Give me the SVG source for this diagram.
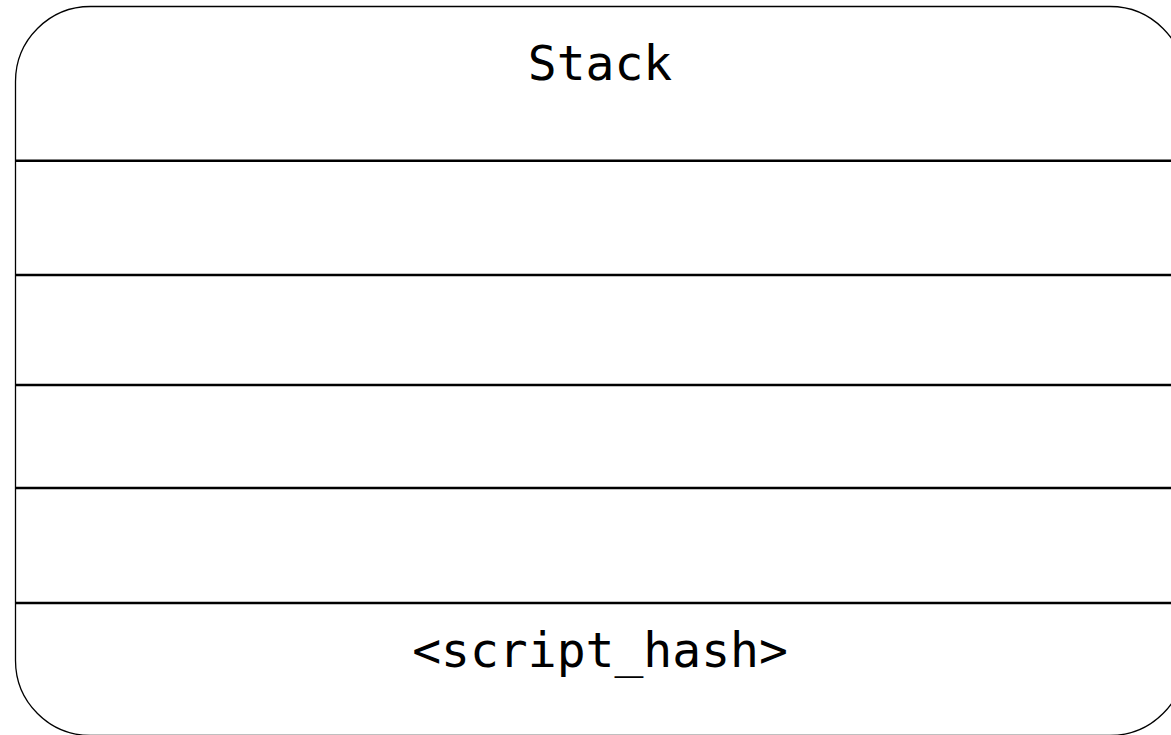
<svg xmlns="http://www.w3.org/2000/svg" width="1171" height="735" viewBox="0 0 1171 735">
  <style>
    .frame { fill: #ffffff; stroke: #000000; stroke-width: 1.3; }
    .row { stroke: #000000; stroke-width: 2.4; }
    .label { font-family: "DejaVu Sans Mono", "Liberation Mono", monospace; font-size: 48px; fill: #000000; text-anchor: middle; }
  </style>
  <rect width="1171" height="735" fill="#ffffff"/>
  <g id="stack">
    <rect class="frame" x="15.5" y="6.5" width="1169.5" height="729" rx="75" ry="75"/>
    <text class="label" x="600" y="79.5">Stack</text>
  </g>
  <g id="slots">
    <line class="row" x1="15.5" y1="160.7" x2="1185" y2="160.7"/>
    <line class="row" x1="15.5" y1="275" x2="1185" y2="275"/>
    <line class="row" x1="15.5" y1="385" x2="1185" y2="385"/>
    <line class="row" x1="15.5" y1="488" x2="1185" y2="488"/>
    <line class="row" x1="15.5" y1="603" x2="1185" y2="603"/>
  </g>
  <g id="script-hash">
    <text class="label" x="600" y="667">&lt;script_hash&gt;</text>
  </g>
</svg>
